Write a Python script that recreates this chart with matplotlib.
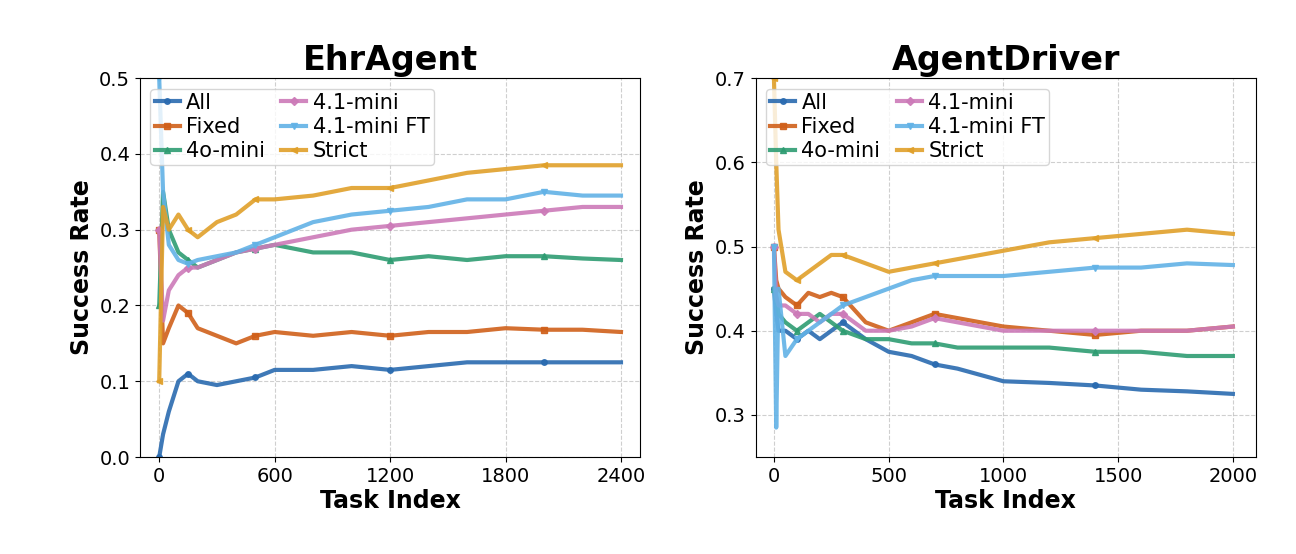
import numpy as np
import matplotlib.pyplot as plt

labels = ["All", "Fixed", "4o-mini", "4.1-mini", "4.1-mini FT", "Strict"]
colors = ["#2a6bb0", "#d0601a", "#2e9c72", "#cc7ab8", "#62b2e6", "#e0a02a"]
markers = ["o", "s", "^", "D", "v", "<"]

# EhrAgent
ehr_x = [0, 20, 50, 100, 150, 200, 300, 400, 500, 600, 800, 1000, 1200, 1400, 1600, 1800, 2000, 2200, 2400]
ehr_all = [0, 0.03, 0.06, 0.10, 0.11, 0.10, 0.095, 0.10, 0.105, 0.115, 0.115, 0.12, 0.115, 0.12, 0.125, 0.125, 0.125, 0.125, 0.125]
ehr_fixed = [0.30, 0.15, 0.17, 0.20, 0.19, 0.17, 0.16, 0.15, 0.16, 0.165, 0.16, 0.165, 0.16, 0.165, 0.165, 0.17, 0.168, 0.168, 0.165]
ehr_4o = [0.20, 0.35, 0.30, 0.27, 0.26, 0.25, 0.26, 0.27, 0.275, 0.28, 0.27, 0.27, 0.26, 0.265, 0.26, 0.265, 0.265, 0.262, 0.26]
ehr_41 = [0.30, 0.18, 0.22, 0.24, 0.25, 0.25, 0.26, 0.27, 0.275, 0.28, 0.29, 0.30, 0.305, 0.31, 0.315, 0.32, 0.325, 0.33, 0.33]
ehr_ft = [0.50, 0.35, 0.28, 0.26, 0.255, 0.26, 0.265, 0.27, 0.28, 0.29, 0.31, 0.32, 0.325, 0.33, 0.34, 0.34, 0.35, 0.345, 0.345]
ehr_strict = [0.10, 0.33, 0.30, 0.32, 0.30, 0.29, 0.31, 0.32, 0.34, 0.34, 0.345, 0.355, 0.355, 0.365, 0.375, 0.38, 0.385, 0.385, 0.385]

# AgentDriver
ad_x = [0, 10, 20, 50, 100, 150, 200, 250, 300, 400, 500, 600, 700, 800, 1000, 1200, 1400, 1600, 1800, 2000]
ad_all = [0.45, 0.42, 0.40, 0.40, 0.39, 0.40, 0.39, 0.40, 0.41, 0.39, 0.375, 0.37, 0.36, 0.355, 0.34, 0.338, 0.335, 0.33, 0.328, 0.325]
ad_fixed = [0.50, 0.46, 0.45, 0.44, 0.43, 0.445, 0.44, 0.445, 0.44, 0.41, 0.40, 0.41, 0.42, 0.415, 0.405, 0.40, 0.395, 0.40, 0.40, 0.405]
ad_4o = [0.45, 0.44, 0.42, 0.41, 0.40, 0.41, 0.42, 0.41, 0.40, 0.39, 0.39, 0.385, 0.385, 0.38, 0.38, 0.38, 0.375, 0.375, 0.37, 0.37]
ad_41 = [0.50, 0.44, 0.43, 0.43, 0.42, 0.42, 0.41, 0.42, 0.42, 0.40, 0.40, 0.405, 0.415, 0.41, 0.40, 0.40, 0.40, 0.40, 0.40, 0.405]
ad_ft = [0.50, 0.285, 0.45, 0.37, 0.39, 0.40, 0.41, 0.42, 0.43, 0.44, 0.45, 0.46, 0.465, 0.465, 0.465, 0.47, 0.475, 0.475, 0.48, 0.478]
ad_strict = [0.70, 0.60, 0.52, 0.47, 0.46, 0.47, 0.48, 0.49, 0.49, 0.48, 0.47, 0.475, 0.48, 0.485, 0.495, 0.505, 0.51, 0.515, 0.52, 0.515]

fig = plt.figure(figsize=(12.96, 5.54), dpi=100)
ax1 = fig.add_axes([0.108, 0.175, 0.386, 0.684])
ax2 = fig.add_axes([0.583, 0.175, 0.386, 0.684])

panels = [
    (ax1, "EhrAgent", ehr_x, [ehr_all, ehr_fixed, ehr_4o, ehr_41, ehr_ft, ehr_strict]),
    (ax2, "AgentDriver", ad_x, [ad_all, ad_fixed, ad_4o, ad_41, ad_ft, ad_strict]),
]
for ax, title, xs, series in panels:
    for ys, lab, c, m in zip(series, labels, colors, markers):
        ax.plot(xs, ys, color=c, lw=3, marker=m, ms=4, markevery=4, label=lab, alpha=0.9)
    ax.set_title(title, fontsize=24, fontweight="bold")
    ax.set_xlabel("Task Index", fontsize=17, fontweight="bold", labelpad=2)
    ax.set_ylabel("Success Rate", fontsize=17, fontweight="bold")
    ax.grid(True, ls="--", alpha=0.6)
    ax.tick_params(labelsize=14)
    ax.legend(ncol=2, fontsize=15, loc="upper left", handlelength=1.2,
              columnspacing=0.8, handletextpad=0.3, borderpad=0.2,
              labelspacing=0.2, framealpha=0.8)

ax1.set_xlim(-100, 2500)
ax1.set_xticks([0, 600, 1200, 1800, 2400])
ax1.set_ylim(0, 0.5)
ax1.set_yticks([0, 0.1, 0.2, 0.3, 0.4, 0.5])
ax2.set_xlim(-80, 2100)
ax2.set_xticks([0, 500, 1000, 1500, 2000])
ax2.set_ylim(0.25, 0.7)
ax2.set_yticks([0.3, 0.4, 0.5, 0.6, 0.7])

fig.savefig("out.png", dpi=100)
